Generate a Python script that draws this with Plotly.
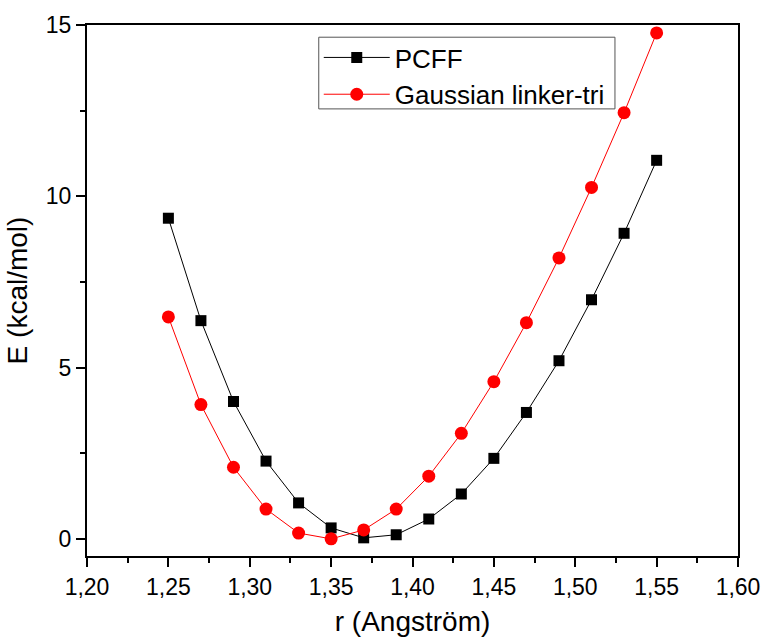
import plotly.graph_objects as go

r_values = [1.25, 1.27, 1.29, 1.31, 1.33, 1.35, 1.37, 1.39, 1.41, 1.43, 1.45, 1.47, 1.49, 1.51, 1.53, 1.55]
pcff = [9.36, 6.37, 4.01, 2.27, 1.05, 0.32, 0.03, 0.12, 0.58, 1.31, 2.35, 3.69, 5.20, 6.98, 8.92, 11.05]
gaussian = [6.48, 3.92, 2.09, 0.87, 0.17, 0.0, 0.26, 0.87, 1.83, 3.08, 4.59, 6.31, 8.20, 10.26, 12.44, 14.77]
x_tickvals = [1.20, 1.25, 1.30, 1.35, 1.40, 1.45, 1.50, 1.55, 1.60]
x_ticktext = ["1,20", "1,25", "1,30", "1,35", "1,40", "1,45", "1,50", "1,55", "1,60"]
y_tickvals = [0, 5, 10, 15]

FONT = "Liberation Sans, Arial, sans-serif"

fig = go.Figure()
fig.add_trace(go.Scatter(
    x=r_values, y=pcff, mode="lines+markers", name="PCFF",
    line=dict(color="black", width=1),
    marker=dict(symbol="square", size=11, color="black"),
))
fig.add_trace(go.Scatter(
    x=r_values, y=gaussian, mode="lines+markers", name="Gaussian linker-tri",
    line=dict(color="red", width=1),
    marker=dict(symbol="circle", size=13, color="red"),
))

axis_common = dict(
    showline=True, linecolor="black", linewidth=2, mirror=True,
    showgrid=False, zeroline=False,
    ticks="outside", ticklen=9, tickwidth=2, tickcolor="black",
    tickfont=dict(family=FONT, size=23, color="black"),
)

fig.update_layout(
    width=772, height=644,
    margin=dict(l=87, r=25, t=25, b=86),
    plot_bgcolor="white", paper_bgcolor="white",
    font=dict(family=FONT, color="black"),
    xaxis=dict(
        range=[1.20, 1.60], tickvals=x_tickvals, ticktext=x_ticktext,
        title=dict(text="r (Angström)", font=dict(family=FONT, size=28), standoff=13),
        minor=dict(ticks="outside", ticklen=5, tickwidth=2, tickcolor="black", dtick=0.025),
        **axis_common,
    ),
    yaxis=dict(
        range=[-0.5, 15], tickvals=y_tickvals,
        title=dict(text="E (kcal/mol)", font=dict(family=FONT, size=28), standoff=10),
        minor=dict(ticks="outside", ticklen=5, tickwidth=2, tickcolor="black", dtick=2.5, tick0=0),
        **axis_common,
    ),
    legend=dict(
        x=0.356, y=0.983, xanchor="left", yanchor="top",
        borderwidth=0, bgcolor="rgba(0,0,0,0)",
        font=dict(family=FONT, size=26, color="black"),
        itemwidth=66, tracegroupgap=0,
    ),
    shapes=[dict(
        type="rect", xref="paper", yref="paper",
        x0=0.356, x1=0.811, y0=0.842, y1=0.977,
        line=dict(color="#555555", width=1), layer="below",
    )],
    showlegend=True,
)

fig.write_html("out.html")
